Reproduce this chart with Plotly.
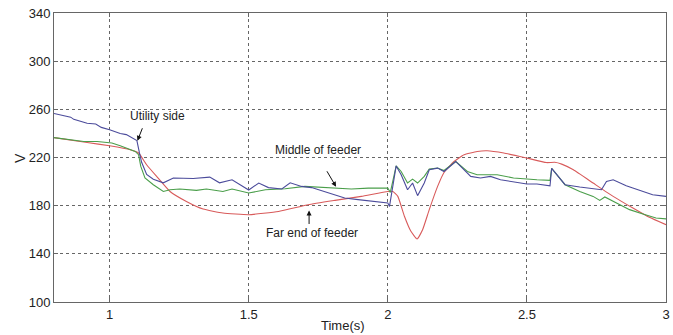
import plotly.graph_objects as go

# Utility side (blue)
t_utility = [0.8, 0.84, 0.86, 0.871, 0.89, 0.919, 0.95, 0.97, 1.0, 1.038, 1.06, 1.08, 1.098,
             1.107, 1.115, 1.133, 1.157, 1.193, 1.229, 1.3, 1.36, 1.395, 1.44, 1.5, 1.536,
             1.571, 1.619, 1.649, 1.69, 1.726, 1.786, 1.845, 1.893, 1.94, 2.0, 2.006, 2.03,
             2.048, 2.071, 2.089, 2.107, 2.131, 2.149, 2.179, 2.202, 2.244, 2.274, 2.298,
             2.333, 2.369, 2.405, 2.452, 2.5, 2.536, 2.583, 2.589, 2.607, 2.637, 2.69, 2.738,
             2.768, 2.786, 2.81, 2.857, 2.917, 2.952, 3.0]
v_utility = [256.5, 254.5, 253.5, 251.7, 250.5, 248.4, 247.8, 245, 243, 240, 239, 236.5, 234,
             224, 216, 206, 202, 199, 203, 202.6, 203.7, 199, 201.5, 193, 198.8,
             195, 193.8, 199, 196, 195, 190.5, 186.3, 185, 183.6, 182.2, 179.4, 213,
             205.7, 193.2, 198.8, 188.3, 198.8, 209.8, 211.2, 208.4, 216.7, 210, 204.3,
             203, 204.3, 201.5, 200, 198, 198, 196.5, 211, 205.7, 197.4, 195.5, 193.8,
             193.2, 200, 201.5, 196.5, 191.8, 189, 187.7]

# Middle of feeder (green)
t_middle = [0.8, 0.848, 0.907, 0.955, 1.008, 1.038, 1.092, 1.104, 1.112, 1.127, 1.157, 1.193,
            1.217, 1.252, 1.312, 1.348, 1.407, 1.44, 1.5, 1.56, 1.631, 1.702, 1.786, 1.869,
            1.93, 2.0, 2.009, 2.03, 2.048, 2.071, 2.089, 2.107, 2.131, 2.149, 2.179, 2.202,
            2.244, 2.286, 2.321, 2.357, 2.393, 2.452, 2.5, 2.536, 2.583, 2.589, 2.637, 2.69,
            2.738, 2.762, 2.78, 2.821, 2.869, 2.917, 2.964, 3.0]
v_middle = [236.5, 235, 233.3, 233.3, 232, 229.7, 225, 222.3, 212.6, 203, 197.4, 191.8,
            193.2, 193.8, 192.7, 193.8, 191.8, 193.8, 190.5, 193.2, 194, 196, 194.6, 193.8,
            194.6, 194.6, 191, 213, 208.4, 198.8, 202, 198.8, 204.3, 210.4, 211.2, 209.2,
            216.7, 208.4, 205.7, 205.7, 205.7, 203, 202, 201.5, 201, 211, 197.4, 191.8,
            187.7, 184.4, 187.2, 182.2, 176.7, 173.1, 169.8, 169]

# Far end of feeder (red)
t_far = [0.8, 0.919, 1.0, 1.074, 1.104, 1.133, 1.169, 1.217, 1.276, 1.336, 1.407, 1.5, 1.607,
         1.714, 1.81, 1.905, 2.0, 2.018, 2.036, 2.06, 2.083, 2.105, 2.125, 2.149, 2.179, 2.202,
         2.238, 2.274, 2.321, 2.357, 2.417, 2.5, 2.57, 2.6, 2.625, 2.667, 2.738, 2.81, 2.881, 2.94, 3.0]
v_far = [236.5, 232.5, 229.7, 226.4, 223.7, 214, 204.3, 191.8, 183.5, 177.2, 173.9, 172.5, 175.2,
         180.8, 184.4, 187.7, 191.8, 191.8, 187.7, 171, 158.7, 152.3, 160, 176.7, 196, 207.6,
         216.7, 222.3, 225, 225.6, 223.7, 219.5, 215.8, 216.0, 214.5, 209.8, 198.8, 187.7, 178, 170.3, 164.2]

x_ticks = [1, 1.5, 2, 2.5, 3]
x_tick_labels = ["1", "1.5", "2", "2.5", "3"]
y_ticks = [100, 140, 180, 220, 260, 300, 340]

FONT = "Liberation Sans, Arial, sans-serif"

fig = go.Figure()
fig.add_trace(go.Scatter(x=t_far, y=v_far, mode="lines",
                         line=dict(color="#d85a5a", width=1.1, shape="spline", smoothing=0.4)))
fig.add_trace(go.Scatter(x=t_middle, y=v_middle, mode="lines",
                         line=dict(color="#4a9e4a", width=1.1)))
fig.add_trace(go.Scatter(x=t_utility, y=v_utility, mode="lines",
                         line=dict(color="#4b4b9b", width=1.1)))

axis_common = dict(showline=True, linecolor="#666", linewidth=1, mirror="ticks",
                   ticks="inside", ticklen=4, tickcolor="#666",
                   showgrid=True, gridcolor="#666", griddash="dot", gridwidth=1,
                   zeroline=False, ticklabeloverflow="allow",
                   tickfont=dict(family=FONT, size=13, color="#222"))

fig.update_layout(
    width=673, height=335,
    margin=dict(l=54, r=3, t=13, b=33),
    paper_bgcolor="white", plot_bgcolor="white",
    showlegend=False,
    xaxis=dict(range=[0.8, 3], tickvals=x_ticks, ticktext=x_tick_labels, **axis_common),
    yaxis=dict(range=[100, 340], tickvals=y_ticks, **axis_common),
    font=dict(family=FONT, size=12, color="#222"),
)

ann_font = dict(family=FONT, size=12, color="#222")
# text labels
fig.add_annotation(x=1.171, y=254.6, text="Utility side", showarrow=False, font=ann_font)
fig.add_annotation(x=1.75, y=226.4, text="Middle of feeder", showarrow=False, font=ann_font)
fig.add_annotation(x=1.7286, y=157.6, text="Far end of feeder", showarrow=False, font=ann_font)
# arrows
arrow_common = dict(text="", showarrow=True, arrowhead=2, arrowsize=1, arrowwidth=1,
                    arrowcolor="#111", standoff=0, startstandoff=0)
fig.add_annotation(x=1.1, y=233.9, ax=5.5, ay=-14, **arrow_common)
fig.add_annotation(x=1.814, y=195.7, ax=-10, ay=-17, **arrow_common)
fig.add_annotation(x=1.717, y=176.0, ax=0, ay=15, **arrow_common)

# axis titles
fig.add_annotation(xref="paper", yref="paper", x=(345 - 54) / 616, y=-(326 - 302.5) / 289.5,
                   text="Time(s)", showarrow=False, font=dict(family=FONT, size=13, color="#222"),
                   xanchor="center", yanchor="middle")
fig.add_annotation(xref="paper", yref="paper", x=(20 - 54) / 616, y=(302.5 - 158) / 289.5,
                   text="V", showarrow=False, textangle=-90,
                   font=dict(family=FONT, size=14, color="#222"),
                   xanchor="center", yanchor="middle")

fig.write_html("out.html")
